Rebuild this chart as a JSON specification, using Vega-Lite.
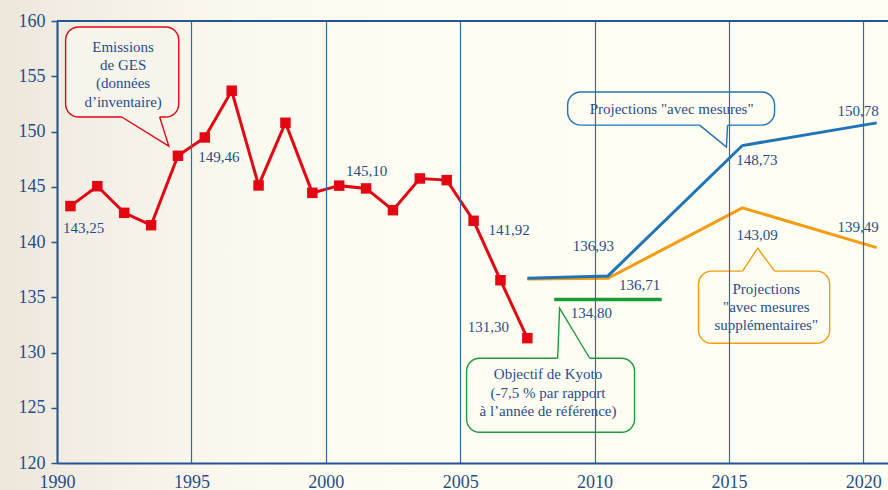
{
  "$schema": "https://vega.github.io/schema/vega-lite/v6.json",
  "width": 831,
  "height": 442,
  "autosize": {"type": "none"},
  "padding": {"left": 57, "top": 21, "right": 0, "bottom": 27},
  "background": "#FFFDF1",
  "config": {
    "view": {"stroke": null},
    "font": "Liberation Serif",
    "axis": {
      "labelFont": "Liberation Serif",
      "labelFontSize": 18,
      "labelColor": "#1F4E8C",
      "domainColor": "#235494",
      "domainWidth": 2,
      "zindex": 1
    }
  },
  "datasets": {
    "emis": [
      {"year": 1990.5, "value": 143.25},
      {"year": 1991.5, "value": 145.05},
      {"year": 1992.5, "value": 142.64},
      {"year": 1993.5, "value": 141.52},
      {"year": 1994.5, "value": 147.8},
      {"year": 1995.5, "value": 149.46},
      {"year": 1996.5, "value": 153.69},
      {"year": 1997.5, "value": 145.12},
      {"year": 1998.5, "value": 150.79},
      {"year": 1999.5, "value": 144.45},
      {"year": 2000.5, "value": 145.1},
      {"year": 2001.5, "value": 144.85},
      {"year": 2002.5, "value": 142.88},
      {"year": 2003.5, "value": 145.75},
      {"year": 2004.5, "value": 145.6},
      {"year": 2005.5, "value": 141.92},
      {"year": 2006.5, "value": 136.54},
      {"year": 2007.5, "value": 131.3}
    ],
    "proj": [
      {"series": "supp", "year": 2007.5, "value": 136.65},
      {"series": "supp", "year": 2010.5, "value": 136.71},
      {"series": "supp", "year": 2015.5, "value": 143.09},
      {"series": "supp", "year": 2020.5, "value": 139.49},
      {"series": "avec", "year": 2007.5, "value": 136.72},
      {"series": "avec", "year": 2010.5, "value": 136.93},
      {"series": "avec", "year": 2015.5, "value": 148.73},
      {"series": "avec", "year": 2020.5, "value": 150.78}
    ],
    "kyoto": [
      {"year": 2008.5, "value": 134.8},
      {"year": 2012.5, "value": 134.8}
    ],
    "labels": [
      {"year": 1990.99, "value": 141.3, "text": "143,25"},
      {"year": 1996.02, "value": 147.68, "text": "149,46"},
      {"year": 2001.52, "value": 146.4, "text": "145,10"},
      {"year": 2006.82, "value": 141.1, "text": "141,92"},
      {"year": 2006.05, "value": 132.27, "text": "131,30"},
      {"year": 2009.96, "value": 139.64, "text": "136,93"},
      {"year": 2011.68, "value": 136.14, "text": "136,71"},
      {"year": 2009.88, "value": 133.6, "text": "134,80"},
      {"year": 2016.04, "value": 147.43, "text": "148,73"},
      {"year": 2016.05, "value": 140.67, "text": "143,09"},
      {"year": 2019.81, "value": 151.82, "text": "150,78"},
      {"year": 2019.81, "value": 141.37, "text": "139,49"}
    ],
    "bubbles": [
      {"id": "red", "x1": 1990.32, "x2": 1994.53, "top": 159.46, "bottom": 151.31},
      {"id": "blue", "x1": 2009.0, "x2": 2016.7, "top": 153.57, "bottom": 150.58},
      {"id": "orange", "x1": 2013.87, "x2": 2018.75, "top": 137.36, "bottom": 130.84},
      {"id": "green", "x1": 2005.24, "x2": 2011.49, "top": 129.48, "bottom": 122.78}
    ],
    "ptrfill": [
      {"id": "red", "py": 151.51, "pl": 1992.41, "pr": 1993.82},
      {"id": "red", "py": 151.31, "pl": 1992.41, "pr": 1993.82},
      {"id": "red", "py": 148.68, "pl": 1994.16, "pr": 1994.16},
      {"id": "blue", "py": 150.78, "pl": 2013.91, "pr": 2014.95},
      {"id": "blue", "py": 150.58, "pl": 2013.91, "pr": 2014.95},
      {"id": "blue", "py": 148.59, "pl": 2014.91, "pr": 2014.91},
      {"id": "orange", "py": 137.16, "pl": 2015.51, "pr": 2016.7},
      {"id": "orange", "py": 137.36, "pl": 2015.51, "pr": 2016.7},
      {"id": "orange", "py": 139.44, "pl": 2016.07, "pr": 2016.07},
      {"id": "green", "py": 129.28, "pl": 2008.63, "pr": 2009.82},
      {"id": "green", "py": 129.48, "pl": 2008.63, "pr": 2009.82},
      {"id": "green", "py": 134.01, "pl": 2008.7, "pr": 2008.7}
    ],
    "ptr": [
      {"id": "red", "k": 0, "year": 1992.41, "value": 151.31},
      {"id": "red", "k": 1, "year": 1994.16, "value": 148.68},
      {"id": "red", "k": 2, "year": 1993.82, "value": 151.31},
      {"id": "blue", "k": 0, "year": 2013.91, "value": 150.58},
      {"id": "blue", "k": 1, "year": 2014.91, "value": 148.59},
      {"id": "blue", "k": 2, "year": 2014.95, "value": 150.58},
      {"id": "orange", "k": 0, "year": 2015.51, "value": 137.36},
      {"id": "orange", "k": 1, "year": 2016.07, "value": 139.44},
      {"id": "orange", "k": 2, "year": 2016.7, "value": 137.36},
      {"id": "green", "k": 0, "year": 2008.63, "value": 129.48},
      {"id": "green", "k": 1, "year": 2008.7, "value": 134.01},
      {"id": "green", "k": 2, "year": 2009.82, "value": 129.48}
    ],
    "btext": [
      {"id": "red", "year": 1992.46, "value": 157.67, "text": ["Emissions", "de GES", "(données", "d’inventaire)"]},
      {"id": "blue", "year": 2012.87, "value": 152.0, "text": ["Projections \"avec mesures\""]},
      {"id": "orange", "year": 2016.39, "value": 135.79, "text": ["Projections", "\"avec mesures", "supplémentaires\""]},
      {"id": "green", "year": 2008.27, "value": 128.03, "text": ["Objectif de Kyoto", "(-7,5 % par rapport", "à l’année de référence)"]}
    ]
  },
  "layer": [
    {
      "data": {"values": [{}]},
      "mark": {
        "type": "rect",
        "color": {
          "gradient": "linear",
          "x1": 0, "x2": 1, "y1": 0, "y2": 0,
          "stops": [
            {"offset": 0, "color": "#ECE5DA"},
            {"offset": 0.12, "color": "#F4EFE6"},
            {"offset": 0.3, "color": "#FCFAEF"},
            {"offset": 0.5, "color": "#FFFDF1"},
            {"offset": 1, "color": "#FFFEF2"}
          ]
        }
      },
      "encoding": {
        "x": {"datum": 1987.5, "type": "quantitative", "title": null},
        "x2": {"datum": 2021.5},
        "y": {"datum": 116, "type": "quantitative", "title": null},
        "y2": {"datum": 163}
      }
    },
    {
      "data": {"name": "bubbles"},
      "mark": {"type": "rect", "cornerRadius": 13, "strokeWidth": 1.4},
      "encoding": {
        "x": {"field": "x1", "type": "quantitative", "title": null},
        "x2": {"field": "x2"},
        "y": {"field": "top", "type": "quantitative", "title": null},
        "y2": {"field": "bottom"},
        "fill": {"field": "id", "type": "nominal", "legend": null,
          "scale": {"domain": ["red", "blue", "orange", "green"], "range": ["#F7F4EB", "#FFFDF1", "#FFFDF1", "#FFFDF1"]}},
        "stroke": {"field": "id", "type": "nominal", "legend": null,
          "scale": {"domain": ["red", "blue", "orange", "green"], "range": ["#E30613", "#1F73B7", "#F39C12", "#1E9A3C"]}}
      }
    },
    {
      "data": {"name": "ptrfill"},
      "mark": {"type": "area", "orient": "horizontal"},
      "encoding": {
        "y": {"field": "py", "type": "quantitative", "title": null},
        "x": {"field": "pl", "type": "quantitative", "title": null},
        "x2": {"field": "pr"},
        "fill": {"field": "id", "type": "nominal", "legend": null},
        "detail": {"field": "id"}
      }
    },
    {
      "data": {"name": "ptr"},
      "mark": {"type": "line", "strokeWidth": 1.4},
      "encoding": {
        "x": {"field": "year", "type": "quantitative", "title": null},
        "y": {"field": "value", "type": "quantitative", "title": null},
        "stroke": {"field": "id", "type": "nominal", "legend": null},
        "order": {"field": "k"},
        "detail": {"field": "id"}
      }
    },
    {
      "data": {"name": "kyoto"},
      "mark": {"type": "line", "color": "#179A3A", "strokeWidth": 3.5},
      "encoding": {
        "x": {"field": "year", "type": "quantitative", "title": null},
        "y": {"field": "value", "type": "quantitative", "title": null}
      }
    },
    {
      "data": {"name": "proj"},
      "mark": {"type": "line", "strokeWidth": 3},
      "encoding": {
        "x": {"field": "year", "type": "quantitative", "title": null},
        "y": {"field": "value", "type": "quantitative", "title": null},
        "color": {"field": "series", "type": "nominal", "legend": null, "sort": ["supp", "avec"],
          "scale": {"domain": ["supp", "avec"], "range": ["#F39C12", "#1F73B7"]}}
      }
    },
    {
      "data": {"name": "emis"},
      "mark": {"type": "line", "color": "#E30613", "strokeWidth": 3,
        "point": {"shape": "square", "size": 110, "filled": true, "color": "#E30613", "opacity": 1}},
      "encoding": {
        "x": {
          "field": "year", "type": "quantitative", "title": null,
          "scale": {"domain": [1990, 2020.92], "nice": false, "zero": false},
          "axis": {
            "values": [1990, 1995, 2000, 2005, 2010, 2015, 2020],
            "format": "d",
            "grid": true,
            "gridColor": "#3A66A3",
            "gridWidth": 1.2,
            "ticks": false,
            "tickSize": 0,
            "labelPadding": 10,
            "labelFlush": false,
            "labelOverlap": false,
            "labelBound": false,
            "zindex": 1
          }
        },
        "y": {
          "field": "value", "type": "quantitative", "title": null,
          "scale": {"domain": [120, 160], "nice": false, "zero": false},
          "axis": {
            "values": [120, 125, 130, 135, 140, 145, 150, 155, 160],
            "grid": false,
            "ticks": true,
            "tickSize": 6,
            "tickWidth": 1.5,
            "tickColor": "#235494",
            "labelPadding": 6,
            "labelOverlap": false,
            "labelFlush": false,
            "labelBound": false,
            "zindex": 1
          }
        }
      }
    },
    {
      "data": {"name": "labels"},
      "mark": {"type": "text", "font": "Liberation Serif", "fontSize": 15, "color": "#1F4E8C", "align": "center", "baseline": "middle"},
      "encoding": {
        "x": {"field": "year", "type": "quantitative", "title": null},
        "y": {"field": "value", "type": "quantitative", "title": null},
        "text": {"field": "text"}
      }
    },
    {
      "data": {"name": "btext"},
      "mark": {"type": "text", "font": "Liberation Serif", "fontSize": 15, "lineHeight": 18.3, "color": "#1F4E8C", "align": "center", "baseline": "middle"},
      "encoding": {
        "x": {"field": "year", "type": "quantitative", "title": null},
        "y": {"field": "value", "type": "quantitative", "title": null},
        "text": {"field": "text"}
      }
    },
    {
      "data": {"values": [{}]},
      "mark": {"type": "rule", "color": "#235494", "strokeWidth": 2},
      "encoding": {
        "y": {"datum": 160, "type": "quantitative", "title": null}
      }
    }
  ]
}
